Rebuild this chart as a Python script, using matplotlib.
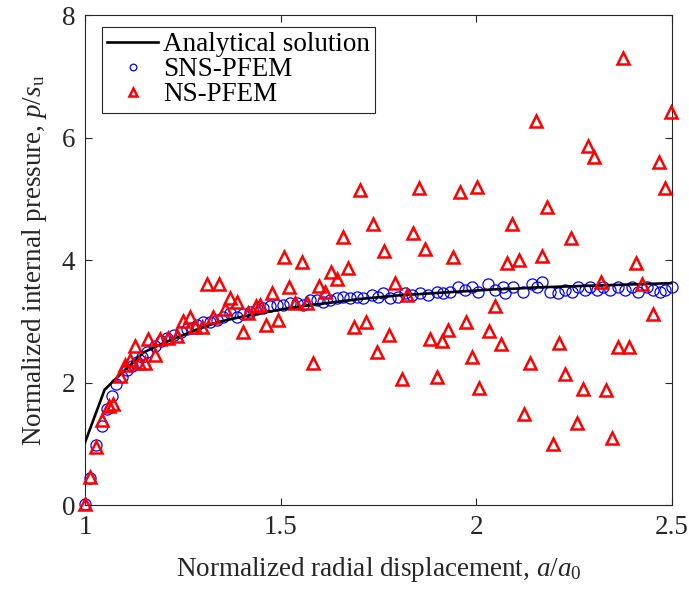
import matplotlib
matplotlib.use('Agg')
import matplotlib.pyplot as plt

# --- Fonts: Times-like serif, MATLAB look ---
plt.rcParams['font.family'] = ['Liberation Serif', 'DejaVu Serif']
plt.rcParams['mathtext.fontset'] = 'custom'
plt.rcParams['mathtext.rm'] = 'Liberation Serif'
plt.rcParams['mathtext.it'] = 'Liberation Serif:italic'

# --- Analytical solution ---
ana_x = [1.00, 1.05, 1.10, 1.15, 1.20, 1.25, 1.30, 1.35, 1.40, 1.45, 1.50,
         1.55, 1.60, 1.65, 1.70, 1.75, 1.80, 1.85, 1.90, 1.95, 2.00, 2.05,
         2.10, 2.15, 2.20, 2.25, 2.30, 2.35, 2.40, 2.45, 2.50]
ana_y = [1.03, 1.89, 2.20, 2.50, 2.65, 2.78, 2.91, 3.01, 3.08, 3.14, 3.20,
         3.25, 3.29, 3.33, 3.37, 3.40, 3.43, 3.45, 3.47, 3.49, 3.51, 3.53,
         3.54, 3.56, 3.57, 3.58, 3.59, 3.60, 3.61, 3.62, 3.63]

# --- SNS-PFEM ---
sns_x = [1.000, 1.013, 1.028, 1.043, 1.055, 1.068, 1.080, 1.094, 1.107, 1.120,
         1.133, 1.146, 1.158, 1.178, 1.195, 1.210, 1.228, 1.245, 1.260, 1.273,
         1.286, 1.302, 1.319, 1.337, 1.353, 1.371, 1.388, 1.404, 1.422, 1.440,
         1.455, 1.473, 1.491, 1.506, 1.524, 1.542, 1.557, 1.575, 1.593, 1.608,
         1.626, 1.644, 1.659, 1.677, 1.695, 1.710, 1.733, 1.749, 1.762, 1.779,
         1.800, 1.818, 1.836, 1.856, 1.877, 1.900, 1.915, 1.933, 1.953, 1.971,
         1.989, 2.004, 2.030, 2.048, 2.068, 2.073, 2.094, 2.119, 2.142, 2.155,
         2.168, 2.188, 2.209, 2.227, 2.245, 2.260, 2.278, 2.291, 2.308, 2.324,
         2.342, 2.362, 2.380, 2.398, 2.413, 2.436, 2.452, 2.469, 2.482, 2.500]
sns_y = [0.03, 0.45, 0.99, 1.29, 1.58, 1.78, 1.99, 2.09, 2.22, 2.27,
         2.35, 2.43, 2.50, 2.61, 2.68, 2.74, 2.79, 2.84, 2.88, 2.90,
         2.95, 3.00, 2.99, 3.03, 3.08, 3.15, 3.07, 3.12, 3.16, 3.20,
         3.23, 3.25, 3.28, 3.28, 3.31, 3.31, 3.28, 3.36, 3.36, 3.33,
         3.36, 3.39, 3.41, 3.39, 3.41, 3.39, 3.44, 3.41, 3.47, 3.39,
         3.41, 3.47, 3.44, 3.47, 3.44, 3.49, 3.47, 3.49, 3.56, 3.52,
         3.56, 3.49, 3.61, 3.52, 3.56, 3.47, 3.56, 3.49, 3.61, 3.57,
         3.65, 3.49, 3.47, 3.52, 3.49, 3.56, 3.52, 3.56, 3.52, 3.56,
         3.52, 3.57, 3.52, 3.56, 3.49, 3.57, 3.52, 3.49, 3.52, 3.57]

# --- NS-PFEM ---
ns_x = [1.000, 1.013, 1.028, 1.043, 1.061, 1.072, 1.089, 1.102, 1.115, 1.127,
        1.138, 1.153, 1.161, 1.179, 1.192, 1.212, 1.235, 1.250, 1.268, 1.281,
        1.299, 1.312, 1.327, 1.342, 1.358, 1.371, 1.388, 1.404, 1.417, 1.437,
        1.447, 1.463, 1.478, 1.493, 1.509, 1.521, 1.537, 1.555, 1.567, 1.583,
        1.598, 1.613, 1.629, 1.644, 1.659, 1.672, 1.687, 1.703, 1.718, 1.736,
        1.746, 1.764, 1.777, 1.792, 1.810, 1.823, 1.838, 1.854, 1.869, 1.882,
        1.900, 1.912, 1.928, 1.940, 1.958, 1.974, 1.989, 2.002, 2.007, 2.032,
        2.048, 2.063, 2.078, 2.091, 2.109, 2.122, 2.137, 2.153, 2.168, 2.181,
        2.196, 2.211, 2.227, 2.242, 2.257, 2.273, 2.285, 2.301, 2.319, 2.331,
        2.347, 2.362, 2.375, 2.390, 2.408, 2.423, 2.452, 2.467, 2.482, 2.498]
ns_y = [0.02, 0.46, 0.96, 1.39, 1.62, 1.65, 2.12, 2.30, 2.38, 2.60,
        2.33, 2.33, 2.72, 2.45, 2.72, 2.74, 2.77, 3.02, 3.07, 2.92,
        2.92, 3.61, 3.08, 3.61, 3.20, 3.39, 3.33, 2.84, 3.15, 3.25,
        3.28, 2.94, 3.47, 3.03, 4.06, 3.56, 3.31, 3.98, 3.31, 2.33,
        3.59, 3.49, 3.82, 3.70, 4.39, 3.87, 2.92, 5.15, 3.00, 4.60,
        2.50, 4.16, 2.79, 3.64, 2.07, 3.43, 4.45, 5.19, 4.19, 2.72,
        2.10, 2.69, 2.87, 4.06, 5.12, 2.99, 2.43, 5.20, 1.92, 2.85,
        3.26, 2.63, 3.96, 4.60, 4.00, 1.50, 2.33, 6.28, 4.08, 4.88,
        1.01, 2.66, 2.15, 4.37, 1.35, 1.91, 5.87, 5.69, 3.65, 1.88,
        1.11, 2.59, 7.31, 2.58, 3.96, 3.62, 3.13, 5.61, 5.19, 6.43]

fig = plt.figure(figsize=(6.89, 5.98), dpi=100)
ax = fig.add_axes([0.1234, 0.1547, 0.852, 0.8194])

ax.plot(ana_x, ana_y, color='black', lw=1.9, zorder=3,
        label='Analytical solution')
ax.plot(sns_x, sns_y, ls='none', marker='o', ms=8, mfc='none',
        mec='#0000FF', mew=0.9, zorder=2, clip_on=False, label='SNS-PFEM')
ax.plot(ns_x, ns_y, ls='none', marker='^', ms=8.5, mfc='none',
        mec='#FF0000', mew=1.8, zorder=4, clip_on=False, label='NS-PFEM')

ax.set_xlim(1, 2.5)
ax.set_ylim(0, 8)
ax.set_xticks([1, 1.5, 2, 2.5])
ax.set_xticklabels(['1', '1.5', '2', '2.5'])
ax.set_yticks([0, 2, 4, 6, 8])

ax.tick_params(direction='in', length=5, width=0.8, top=True, right=True,
               labelsize=19.5, colors='#262626', pad=7)
for sp in ax.spines.values():
    sp.set_linewidth(0.8)
    sp.set_color('#262626')

ax.set_xlabel('Normalized radial displacement, $a/a_0$', fontsize=19.5,
              color='#262626', labelpad=11)
ax.set_ylabel('Normalized internal pressure, $p/s_\\mathrm{u}$', fontsize=19.5,
              color='#262626', labelpad=9)

leg = ax.legend(loc='upper left', bbox_to_anchor=(0.029, 0.9765),
                fontsize=19.5, frameon=True, fancybox=False,
                edgecolor='#262626', framealpha=1, borderpad=0.2,
                labelspacing=0.0, handlelength=1.85, handletextpad=0.2,
                borderaxespad=0.0, markerscale=0.6)
leg.get_frame().set_linewidth(0.8)
leg.set_zorder(10)

fig.savefig('out.png', dpi=100, facecolor='white')
